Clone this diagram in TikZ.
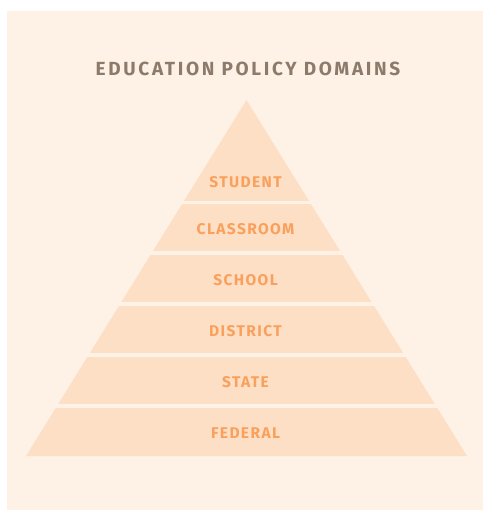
\documentclass[tikz,border=0pt]{standalone}
\usepackage{fontspec}
\setmainfont{Fira Sans}
\newfontfamily\titlefont[LetterSpace=14.0]{Fira Sans}
\newfontfamily\levelfont[LetterSpace=9.0]{Fira Sans}
\usepackage{tikz}
\definecolor{paper}{RGB}{254, 241, 230}
\definecolor{pyramidfill}{RGB}{253, 223, 197}
\definecolor{levelorange}{RGB}{249, 161, 92}
\definecolor{titlebrown}{RGB}{140, 123, 107}
\tikzstyle{titletext}=[anchor=base,inner sep=0pt,titlebrown,font=\titlefont\bfseries\fontsize{19}{22}\selectfont]
\tikzstyle{leveltext}=[anchor=base,inner sep=0pt,levelorange,font=\levelfont\bfseries\fontsize{15.5}{18}\selectfont]
\tikzstyle{levelgap}=[paper,line width=3.5pt]

\begin{document}
\begin{tikzpicture}[x=1pt,y=-1pt]
\useasboundingbox (0,0) rectangle (483,510);
\fill[paper] (7,11) rectangle (483,510);

\coordinate (APEX) at (246.5,100);
\coordinate (BASELEFT) at (26,456);
\coordinate (BASERIGHT) at (467,456);
\fill[pyramidfill] (APEX) -- (BASERIGHT) -- (BASELEFT) -- cycle;

% gaps between the levels
\draw[levelgap] (20,202.3) -- (475,202.3);
\draw[levelgap] (20,253.1) -- (475,253.1);
\draw[levelgap] (20,304.0) -- (475,304.0);
\draw[levelgap] (20,354.9) -- (475,354.9);
\draw[levelgap] (20,405.8) -- (475,405.8);

\node[titletext] (title) at (248,75.5) {EDUCATION POLICY DOMAINS};

\node[leveltext] (student) at (245.5,187.3) {STUDENT};
\node[leveltext] (classroom) at (245.5,234) {CLASSROOM};
\node[leveltext] (school) at (245.5,285) {SCHOOL};
\node[leveltext] (district) at (245.5,336) {DISTRICT};
\node[leveltext] (state) at (245.5,387) {STATE};
\node[leveltext] (federal) at (245.5,438.3) {FEDERAL};

\end{tikzpicture}
\end{document}
